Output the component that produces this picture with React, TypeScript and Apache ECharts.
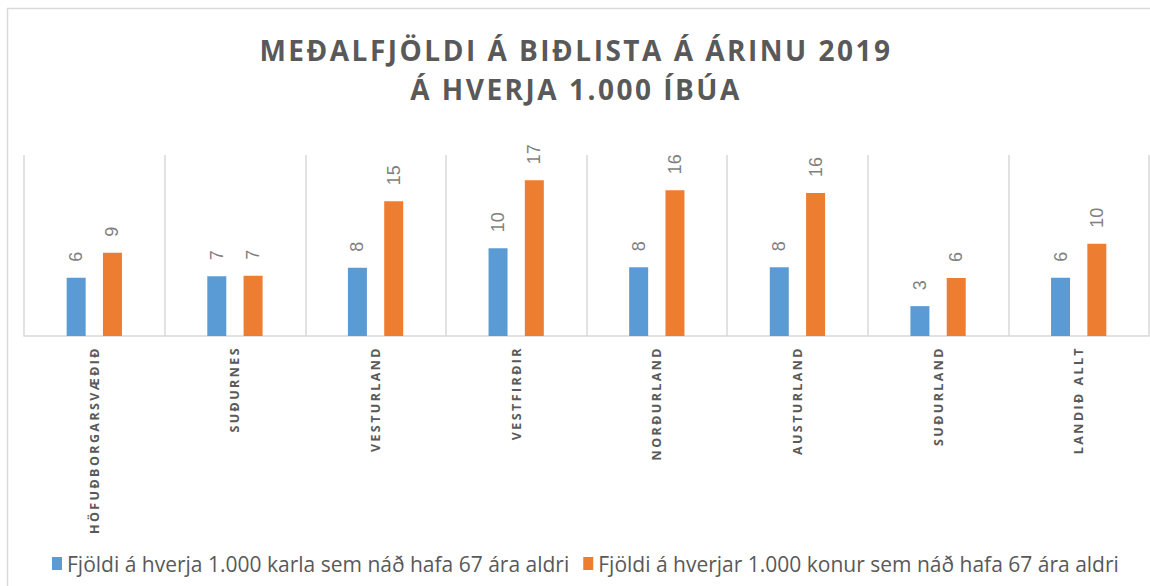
import React, { useEffect, useRef } from "react";
import * as echarts from "echarts";

const categories = [
  "HÖFUÐBORGARSVÆÐIÐ",
  "SUÐURNES",
  "VESTURLAND",
  "VESTFIRÐIR",
  "NORÐURLAND",
  "AUSTURLAND",
  "SUÐURLAND",
  "LANDIÐ ALLT",
];
const karlaValues = [6.45, 6.6, 7.55, 9.7, 7.6, 7.6, 3.3, 6.45];
const konurValues = [9.2, 6.65, 14.9, 17.2, 16.1, 15.8, 6.4, 10.2];
const seriesNames = [
  "Fjöldi á hverja 1.000 karla sem náð hafa 67 ára aldri",
  "Fjöldi á hverjar 1.000 konur sem náð hafa 67 ára aldri",
];
const titleText = "MEÐALFJÖLDI Á BIÐLISTA Á ÁRINU 2019\nÁ HVERJA 1.000 ÍBÚA";

const css = `
#chart text[style*="28px"] { letter-spacing: 2.5px; }
#chart text[style*="12.5px"] { letter-spacing: 2.4px; }
`;

export default function App() {
  const ref = useRef<HTMLDivElement>(null);
  useEffect(() => {
    if (!ref.current) return;
    const chart = echarts.init(ref.current, null, { renderer: "svg" });
    const label = {
      show: true,
      position: "top",
      rotate: 90,
      align: "left",
      verticalAlign: "middle",
      distance: 16,
      fontFamily: "Liberation Sans",
      fontSize: 18,
      color: "#7f7f7f",
      formatter: (p: any) => String(Math.round(p.value)),
    };
    chart.setOption({
      animation: false,
      backgroundColor: "#ffffff",
      graphic: [
        {
          type: "rect",
          shape: { x: 7.5, y: 8.5, width: 1300, height: 800 },
          style: { fill: "none", stroke: "#d9d9d9", lineWidth: 1.5 },
          silent: true,
        },
        {
          type: "text",
          x: 576,
          y: 30,
          silent: true,
          style: {
            text: titleText,
            textAlign: "center",
            textVerticalAlign: "top",
            fontFamily: "Open Sans",
            fontWeight: "bold",
            fontSize: 28,
            lineHeight: 39,
            fill: "#595959",
          },
        },
      ],
      legend: {
        left: 47,
        top: 548,
        itemWidth: 10,
        itemHeight: 13,
        itemGap: 14,
        icon: "rect",
        textStyle: { fontFamily: "Open Sans", fontSize: 21, color: "#595959" },
      },
      grid: { left: 24, right: 1, top: 155, bottom: 250, containLabel: false },
      xAxis: {
        type: "category",
        data: categories,
        axisLine: { lineStyle: { color: "#d9d9d9", width: 1.5 } },
        axisTick: { show: false },
        splitLine: { show: true, interval: 0, lineStyle: { color: "#d9d9d9", width: 1.5 } },
        axisLabel: {
          interval: 0,
          rotate: 90,
          margin: 10,
          fontFamily: "Open Sans",
          fontWeight: "bold",
          fontSize: 12.5,
          color: "#595959",
        },
      },
      yAxis: {
        type: "value",
        min: 0,
        max: 20,
        show: false,
        splitLine: { show: false },
      },
      series: [
        {
          name: seriesNames[0],
          type: "bar",
          data: karlaValues,
          barWidth: 19,
          barGap: "91%",
          itemStyle: { color: "#5B9BD5" },
          label,
        },
        {
          name: seriesNames[1],
          type: "bar",
          data: konurValues,
          barWidth: 19,
          itemStyle: { color: "#ED7D31" },
          label,
        },
      ],
    });
    return () => chart.dispose();
  }, []);
  return (
    <>
      <style>{css}</style>
      <div
        id="chart"
        ref={ref}
        style={{ position: "fixed", left: 0, top: 0, width: 1150, height: 586 }}
      />
    </>
  );
}
